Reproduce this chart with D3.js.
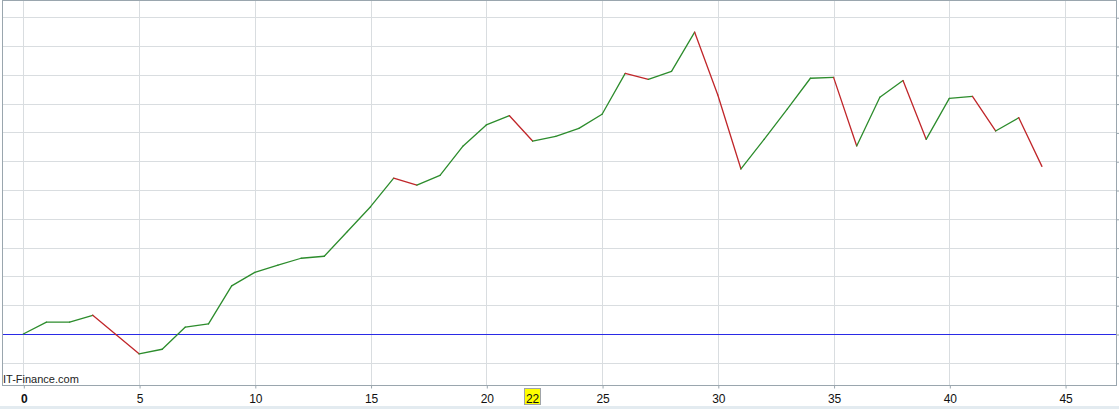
<!DOCTYPE html>
<html>
<head>
<meta charset="utf-8">
<script src="https://cdn.jsdelivr.net/npm/d3@7"></script>
<style>
html,body{margin:0;padding:0;background:#fff;}
svg{display:block;}
text{font-family:"Liberation Sans",Arial,sans-serif;}
</style>
</head>
<body>
<svg id="chart" width="1119" height="409"></svg>
<script>
// Data
const steps = d3.range(0, 45); // 0..44
const values = [0, 0.41, 0.41, 0.65, -0.02, -0.69, -0.53, 0.24, 0.35, 1.67,
  2.14, 2.39, 2.63, 2.70, 3.56, 4.42, 5.41, 5.17, 5.51, 6.53,
  7.26, 7.58, 6.70, 6.86, 7.14, 7.63, 9.05, 8.84, 9.12, 10.48,
  8.30, 5.73, 6.76, 7.81, 8.88, 8.91, 6.53, 8.22, 8.80, 6.76,
  8.18, 8.25, 7.05, 7.51, 5.82];
const xTicks = [0, 5, 10, 15, 20, 25, 30, 35, 40, 45];
const yGrid = [-1, 0, 1, 2, 3, 4, 5, 6, 7, 8, 9, 10, 11];
const baseline = 0;
const highlightTick = 22;
const watermark = "IT-Finance.com";

const svg = d3.select("#chart");
const L = 2, R = 1116, T = 0, B = 385;

const x = d3.scaleLinear().domain([-0.92, 47.2]).range([L, R]);
const y = d3.scaleLinear().domain([-1.771, 11.597]).range([B, T]);

// bottom light strip
svg.append("rect").attr("x", 0).attr("y", 406).attr("width", 1119).attr("height", 3).attr("fill", "#e3ebf0");

// gridlines
const g = svg.append("g");
g.selectAll("line.h").data(yGrid).join("line")
  .attr("x1", L).attr("x2", R)
  .attr("y1", d => Math.round(y(d)) + 0.5).attr("y2", d => Math.round(y(d)) + 0.5)
  .attr("stroke", "#d9dde0").attr("stroke-width", 1);
g.selectAll("line.v").data(xTicks).join("line")
  .attr("y1", T).attr("y2", B)
  .attr("x1", d => Math.round(x(d)) + 0.5).attr("x2", d => Math.round(x(d)) + 0.5)
  .attr("stroke", "#d9dde0").attr("stroke-width", 1);

// baseline
svg.append("line")
  .attr("x1", L).attr("x2", R)
  .attr("y1", Math.round(y(baseline)) + 0.5).attr("y2", Math.round(y(baseline)) + 0.5)
  .attr("stroke", "#2a2ae6").attr("stroke-width", 1.1);

// segments
const segs = d3.range(values.length - 1).map(i => ({
  x1: steps[i], y1: values[i], x2: steps[i + 1], y2: values[i + 1],
  up: values[i + 1] >= values[i]
}));
svg.append("g").selectAll("line").data(segs).join("line")
  .attr("x1", d => x(d.x1)).attr("y1", d => y(d.y1))
  .attr("x2", d => x(d.x2)).attr("y2", d => y(d.y2))
  .attr("stroke", d => d.up ? "#2c8c2c" : "#c0262a")
  .attr("stroke-width", 1.3)
  .attr("stroke-linecap", "round");

// border
svg.append("rect").attr("x", L + 0.5).attr("y", T + 0.5)
  .attr("width", R - L).attr("height", B - T)
  .attr("fill", "none").attr("stroke", "#9aa6ae").attr("stroke-width", 1);

// highlight box for tick 22
const hx = x(highlightTick);
svg.append("rect").attr("x", Math.round(hx) - 8.5).attr("y", 388.5)
  .attr("width", 16).attr("height", 16)
  .attr("fill", "#ffff00").attr("stroke", "#a0a4a8").attr("stroke-width", 1);

// bottom axis
const xAxis = d3.axisBottom(x).tickValues(xTicks).tickSize(3).tickPadding(5.5)
  .tickFormat(d3.format("d"));
const ax = svg.append("g").attr("transform", `translate(0.5,${B + 0.5})`).call(xAxis);
ax.select(".domain").remove();
ax.selectAll(".tick line").attr("stroke", "#9aa6ae");
ax.selectAll(".tick text").attr("font-size", 12).attr("fill", "#111")
  .attr("font-family", "'Liberation Sans', Arial, sans-serif")
  .attr("font-weight", d => d === 0 ? "bold" : "normal");

// highlighted tick label
svg.append("text").attr("x", hx).attr("y", 402.5)
  .attr("text-anchor", "middle").attr("font-size", 12).attr("fill", "#111")
  .text(highlightTick);

// right ticks
const yAxis = d3.axisRight(y).tickValues(yGrid).tickSize(3).tickFormat("");
const ay = svg.append("g").attr("transform", `translate(${R + 0.5},0.5)`).call(yAxis);
ay.select(".domain").remove();
ay.selectAll(".tick line").attr("stroke", "#9aa6ae");

// watermark
svg.append("text").attr("x", 3).attr("y", 382.5)
  .attr("font-size", 11).attr("fill", "#222").text(watermark);
</script>
</body>
</html>
